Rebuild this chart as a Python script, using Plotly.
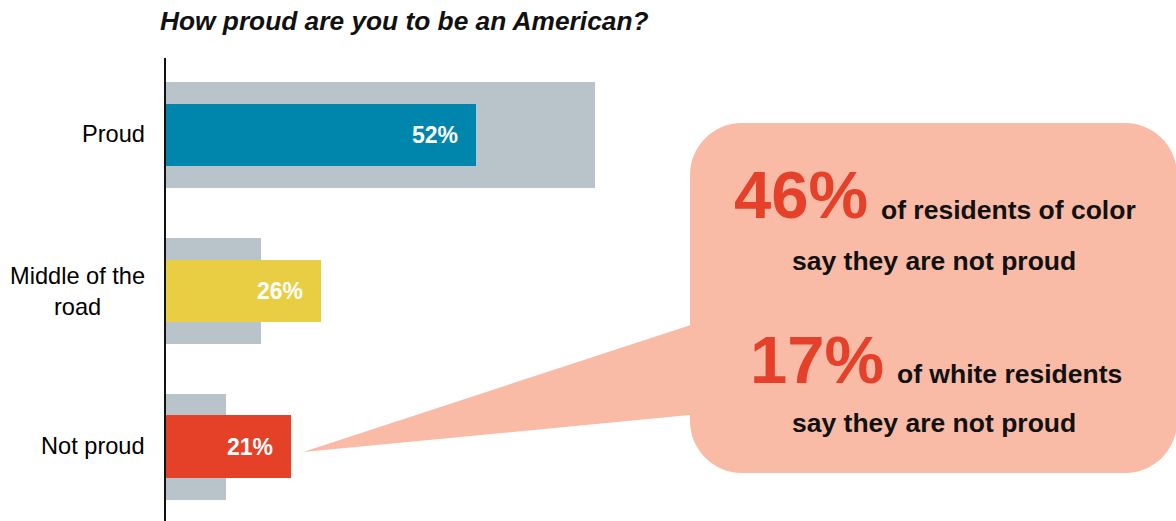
import plotly.graph_objects as go

# Survey categories and shares (percent)
categories = ["Proud", "Middle of the road", "Not proud"]
category_labels = ["Proud", "Middle of the<br>road", "Not proud"]
overall_pct = [52, 26, 21]
comparison_pct = [72, 16, 10]
bar_colors = ["#0085AD", "#E9CE44", "#E54128"]

# Callout figures
callout_stats = [46, 17]
callout_groups = ["of residents of color", "of white residents"]
callout_tail = "say they are not proud"

title_text = "How proud are you to be an American?"

FONT = "Liberation Sans, Arial, sans-serif"
W, H = 1176, 521
ML, MT = 166, 58


def px(x):
    return (x - ML) / (W - ML)


def py(y):
    return (H - y) / (H - MT)


fig = go.Figure()

fig.add_trace(go.Bar(
    y=categories, x=comparison_pct, orientation="h",
    marker=dict(color="#B9C3CA", line=dict(width=0)),
    width=0.68, hoverinfo="skip", showlegend=False,
))
fig.add_trace(go.Bar(
    y=categories, x=overall_pct, orientation="h",
    marker=dict(color=bar_colors, line=dict(width=0)),
    width=0.40, hoverinfo="skip", showlegend=False,
))

annotations = []

# value labels inside the coloured bars
for cat, v in zip(categories, overall_pct):
    annotations.append(dict(
        x=v, y=cat, xref="x", yref="y", text=f"<b>{v}%</b>",
        xanchor="right", yanchor="middle", xshift=-16, showarrow=False,
        font=dict(family=FONT, size=23, color="white"),
    ))

# category labels left of the axis
label_y = [134, 291, 446]
for lab, yy in zip(category_labels, label_y):
    annotations.append(dict(
        x=px(147), y=py(yy), xref="paper", yref="paper", text=lab,
        xanchor="right", yanchor="middle", align="center", showarrow=False,
        font=dict(family=FONT, size=23.6, color="#000000"),
    ))

# title
annotations.append(dict(
    x=px(158), y=py(21), xref="paper", yref="paper",
    text=f"<b><i>{title_text}</i></b>",
    xanchor="left", yanchor="middle", showarrow=False,
    font=dict(family=FONT, size=26.3, color="#111111"),
))

# callout text blocks
big_right = [870, 886]
big_base = [219, 383]
tail_base = [270, 432]
for stat, grp, xr, yb, yt in zip(callout_stats, callout_groups, big_right, big_base, tail_base):
    annotations.append(dict(
        x=px(xr), y=py(yb - 24), xref="paper", yref="paper",
        text=f"<b>{stat}%</b>", xanchor="right", yanchor="middle",
        showarrow=False, font=dict(family=FONT, size=67, color="#E5412A"),
    ))
    annotations.append(dict(
        x=px(xr + 9), y=py(yb - 9), xref="paper", yref="paper",
        text=f"<b>{grp}</b>", xanchor="left", yanchor="middle",
        showarrow=False, font=dict(family=FONT, size=26.5, color="#111111"),
    ))
    annotations.append(dict(
        x=px(934), y=py(yt - 9), xref="paper", yref="paper",
        text=f"<b>{callout_tail}</b>", xanchor="center", yanchor="middle",
        showarrow=False, font=dict(family=FONT, size=26.5, color="#111111"),
    ))


def rounded_rect(x0, y0, x1, y1, r):
    k = 0.5523 * r
    p = lambda x, y: f"{px(x):.5f},{py(y):.5f}"
    return (
        f"M {p(x0 + r, y0)} L {p(x1 - r, y0)} "
        f"C {p(x1 - r + k, y0)} {p(x1, y0 + r - k)} {p(x1, y0 + r)} "
        f"L {p(x1, y1 - r)} "
        f"C {p(x1, y1 - r + k)} {p(x1 - r + k, y1)} {p(x1 - r, y1)} "
        f"L {p(x0 + r, y1)} "
        f"C {p(x0 + r - k, y1)} {p(x0, y1 - r + k)} {p(x0, y1 - r)} "
        f"L {p(x0, y0 + r)} "
        f"C {p(x0, y0 + r - k)} {p(x0 + r - k, y0)} {p(x0 + r, y0)} Z"
    )


callout_fill = "#F9BBA6"
pointer = (f"M {px(303):.5f},{py(452):.5f} L {px(700):.5f},{py(322):.5f} "
           f"L {px(700):.5f},{py(414):.5f} Z")
shapes = [
    dict(type="path", xref="paper", yref="paper", path=rounded_rect(690, 123, 1177, 473, 52),
         fillcolor=callout_fill, line=dict(width=0), layer="below"),
    dict(type="path", xref="paper", yref="paper", path=pointer,
         fillcolor=callout_fill, line=dict(width=0), layer="below"),
]

fig.update_layout(
    width=W, height=H,
    margin=dict(l=ML, r=0, t=MT, b=0, pad=0),
    paper_bgcolor="white", plot_bgcolor="rgba(0,0,0,0)",
    barmode="overlay", bargap=0,
    showlegend=False,
    annotations=annotations, shapes=shapes,
    xaxis=dict(range=[0, 169.5], showgrid=False, zeroline=False,
               showticklabels=False, ticks="", showline=False, fixedrange=True),
    yaxis=dict(categoryorder="array", categoryarray=categories,
               range=[2.478, -0.494], showgrid=False, zeroline=False,
               showticklabels=False, ticks="", showline=True,
               linecolor="#111111", linewidth=2, fixedrange=True),
    font=dict(family=FONT),
)

fig.write_html("out.html", config={"displayModeBar": False})
